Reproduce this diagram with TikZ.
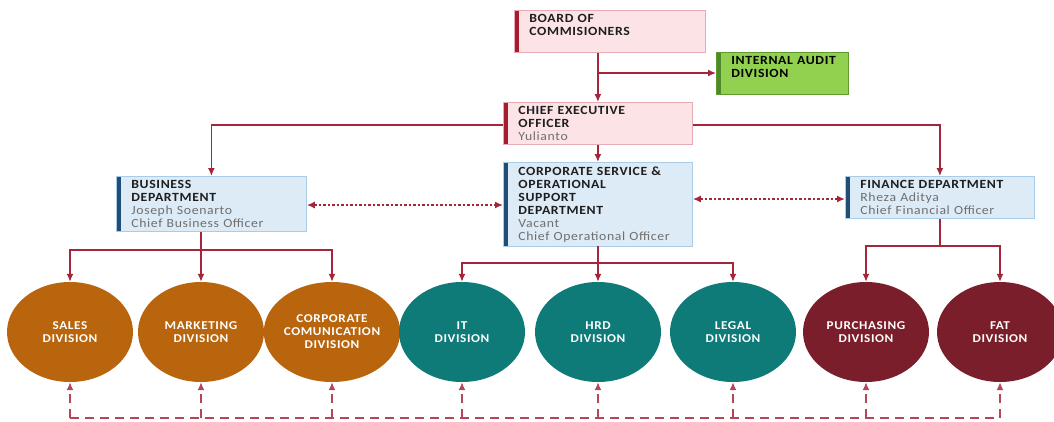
\documentclass[tikz,border=0pt]{standalone}
\usepackage{fontspec}
\setmainfont{Carlito}
\newfontfamily\chartfont{Carlito}[FakeStretch=1.1,LetterSpace=5]
\usetikzlibrary{arrows.meta,positioning,shapes.geometric}

\definecolor{linered}{HTML}{A3263A}
\definecolor{pinkfill}{HTML}{FBE3E6}
\definecolor{pinkline}{HTML}{E7AAB3}
\definecolor{redbar}{HTML}{A51C30}
\definecolor{bluefill}{HTML}{DDEBF7}
\definecolor{blueline}{HTML}{A9CCE8}
\definecolor{bluebar}{HTML}{1F4E79}
\definecolor{greenfill}{HTML}{92D050}
\definecolor{greenline}{HTML}{5E9A2E}
\definecolor{greenbar}{HTML}{4E8A2A}
\definecolor{subgray}{HTML}{6F6F6F}
\definecolor{titlegray}{HTML}{1E1E1E}
\definecolor{salesorange}{HTML}{B8650E}
\definecolor{opsteal}{HTML}{0F7B78}
\definecolor{finmaroon}{HTML}{7A1E2B}

\begin{document}
\begin{tikzpicture}[x=1pt,y=-1pt,
  orgbox/.style={rectangle,draw=#1,line width=0.8pt,anchor=north west,inner xsep=6pt,inner ysep=4pt,
    font=\chartfont\fontsize{12.5}{13}\selectfont,text=titlegray,
    execute at begin node={\leftskip=9pt\relax}},
  pinkbox/.style={orgbox=pinkline,fill=pinkfill,text width=#1,
    path picture={\fill[redbar] (path picture bounding box.north west) rectangle ([xshift=4.5pt]path picture bounding box.south west);}},
  bluebox/.style={orgbox=blueline,fill=bluefill,text width=#1,
    path picture={\fill[bluebar] (path picture bounding box.north west) rectangle ([xshift=4.5pt]path picture bounding box.south west);}},
  greenbox/.style={orgbox=greenline,fill=greenfill,text width=#1,
    path picture={\fill[greenbar] (path picture bounding box.north west) rectangle ([xshift=4.5pt]path picture bounding box.south west);}},
  division/.style={ellipse,fill=#1,minimum width=126pt,minimum height=100pt,inner sep=0pt,
    align=center,text=white,font=\chartfont\bfseries\fontsize{12}{13}\selectfont},
  link/.style={draw=linered,line width=1.4pt,-{Latex[length=8pt,width=7pt]}},
  dotlink/.style={draw=linered,line width=1.5pt,dash pattern=on 2.5pt off 2pt,{Latex[length=8pt,width=7pt]}-{Latex[length=8pt,width=7pt]}},
  backlink/.style={draw=linered!85!white,line width=1.4pt,dash pattern=on 9pt off 6pt},
]
\useasboundingbox (0,0) rectangle (1054,421);

\node[pinkbox=179pt] (board) at (514,10) {\bfseries BOARD OF\\COMMISIONERS\\\mbox{}};
\node[greenbox=120pt,text=black] (audit) at (716,52) {\bfseries INTERNAL AUDIT\\DIVISION\\\mbox{}};
\node[pinkbox=177pt] (ceo) at (503,102) {\bfseries CHIEF EXECUTIVE\\OFFICER\\\mdseries\color{subgray}Yulianto};
\node[bluebox=178pt] (bizdept) at (116,176) {\bfseries BUSINESS\\DEPARTMENT\\\mdseries\color{subgray}Joseph Soenarto\\Chief Business Officer};
\node[bluebox=177pt] (corp) at (503,162) {\bfseries CORPORATE SERVICE \&\\OPERATIONAL\\SUPPORT\\DEPARTMENT\\\mdseries\color{subgray}Vacant\\Chief Operational Officer};
\node[bluebox=177pt] (fin) at (845,176) {\bfseries FINANCE DEPARTMENT\\\mdseries\color{subgray}Rheza Aditya\\Chief Financial Officer};

\node[division=salesorange] (sales) at (70,332) {SALES\\DIVISION};
\node[division=salesorange] (marketing) at (201,332) {MARKETING\\DIVISION};
\node[division=salesorange] (comm) at (332,332) {CORPORATE\\COMUNICATION\\DIVISION};
\node[division=opsteal] (it) at (462,332) {IT\\DIVISION};
\node[division=opsteal] (hrd) at (598,332) {HRD\\DIVISION};
\node[division=opsteal] (legal) at (733,332) {LEGAL\\DIVISION};
\node[division=finmaroon] (purch) at (866,332) {PURCHASING\\DIVISION};
\node[division=finmaroon] (fat) at (1000,332) {FAT\\DIVISION};

\draw[link] (ceo.north |- board.south) -- (ceo.north);
\draw[link] (ceo.north |- 0,73) -- (audit.west |- 0,73);
\draw[link] (ceo.west |- 0,125) -| (bizdept.north);
\draw[link] (ceo.east |- 0,125) -| (fin.north);
\draw[link] (ceo.south) -- (corp.north);
\draw[dotlink] (bizdept.east |- 0,205) -- (corp.west |- 0,205);
\draw[dotlink] (corp.east |- 0,199) -- (fin.west |- 0,199);

\draw[link] (marketing.north |- bizdept.south) -- (marketing.north);
\draw[link] (marketing.north |- 0,250) coordinate (bizfork) -| (sales.north);
\draw[link] (bizfork) -| (comm.north);
\draw[link] (hrd.north |- corp.south) -- (hrd.north);
\draw[link] (hrd.north |- 0,263) coordinate (corpfork) -| (it.north);
\draw[link] (corpfork) -| (legal.north);
\draw[draw=linered,line width=1.4pt] (fin.south) -- (fin.south |- 0,246) coordinate (finfork);
\draw[link] (finfork) -| (purch.north);
\draw[link] (finfork) -| (fat.north);

\draw[backlink] (sales.south |- 0,418) -- (fat.south |- 0,418);
\foreach \d in {sales,marketing,comm,it,hrd,legal,purch,fat}
  \draw[backlink,-{Latex[length=8pt,width=7pt]}] (\d.south |- 0,418) -- (\d.south);

\end{tikzpicture}
\end{document}
